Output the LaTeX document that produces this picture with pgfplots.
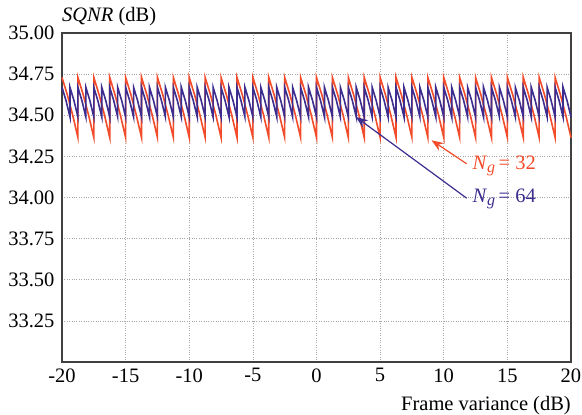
\documentclass[border=0pt]{standalone}
\usepackage{pgfplots}
\pgfplotsset{compat=1.18}
\usepackage{fontspec}
\setmainfont{Liberation Serif}
\usetikzlibrary{arrows.meta}
\definecolor{redline}{RGB}{242,76,42}
\definecolor{blueline}{RGB}{60,45,143}
\newcommand{\lf}{\fontsize{20.5}{23}\selectfont}
\newcommand{\Ng}{\textit{N}\raisebox{-0.35ex}{\fontsize{16}{16}\selectfont\textit{g}}}
\begin{document}
\begin{tikzpicture}
\useasboundingbox (-62pt,-53pt) rectangle (520pt,362pt);
\begin{axis}[
  at={(0pt,0pt)}, anchor=south west,
  width=509pt, height=329pt, scale only axis,
  xmin=-20, xmax=20, ymin=33, ymax=35,
  clip=false,
  xtick={-20,-15,-10,-5,0,5,10,15,20},
  xticklabels={-20,-15,-10,-5,0,5,10,15,20},
  ytick={33.25,33.5,33.75,34,34.25,34.5,34.75,35},
  yticklabels={33.25,33.50,33.75,34.00,34.25,34.50,34.75,35.00},
  grid=major,
  major grid style={dotted, line width=0.7pt, black!35},
  major tick length=0pt,
  axis line style={line width=2.5pt, black!75},
  tick label style={font=\lf},
  xticklabel style={yshift=-3pt},
  yticklabel style={xshift=-4pt},
]
\addplot[redline, line width=1.6pt] coordinates {
(-20,34.73) (-19.583,34.625) (-19.167,34.503) (-18.75,34.365)
(-18.75,34.73) (-18.333,34.625) (-17.917,34.503) (-17.5,34.365)
(-17.5,34.73) (-17.083,34.625) (-16.667,34.503) (-16.25,34.365)
(-16.25,34.73) (-15.833,34.625) (-15.417,34.503) (-15,34.365)
(-15,34.73) (-14.583,34.625) (-14.167,34.503) (-13.75,34.365)
(-13.75,34.73) (-13.333,34.625) (-12.917,34.503) (-12.5,34.365)
(-12.5,34.73) (-12.083,34.625) (-11.667,34.503) (-11.25,34.365)
(-11.25,34.73) (-10.833,34.625) (-10.417,34.503) (-10,34.365)
(-10,34.73) (-9.583,34.625) (-9.167,34.503) (-8.75,34.365)
(-8.75,34.73) (-8.333,34.625) (-7.917,34.503) (-7.5,34.365)
(-7.5,34.73) (-7.083,34.625) (-6.667,34.503) (-6.25,34.365)
(-6.25,34.73) (-5.833,34.625) (-5.417,34.503) (-5,34.365)
(-5,34.73) (-4.583,34.625) (-4.167,34.503) (-3.75,34.365)
(-3.75,34.73) (-3.333,34.625) (-2.917,34.503) (-2.5,34.365)
(-2.5,34.73) (-2.083,34.625) (-1.667,34.503) (-1.25,34.365)
(-1.25,34.73) (-0.833,34.625) (-0.417,34.503) (0,34.365)
(0,34.73) (0.417,34.625) (0.833,34.503) (1.25,34.365)
(1.25,34.73) (1.667,34.625) (2.083,34.503) (2.5,34.365)
(2.5,34.73) (2.917,34.625) (3.333,34.503) (3.75,34.365)
(3.75,34.73) (4.167,34.625) (4.583,34.503) (5,34.365)
(5,34.73) (5.417,34.625) (5.833,34.503) (6.25,34.365)
(6.25,34.73) (6.667,34.625) (7.083,34.503) (7.5,34.365)
(7.5,34.73) (7.917,34.625) (8.333,34.503) (8.75,34.365)
(8.75,34.73) (9.167,34.625) (9.583,34.503) (10,34.365)
(10,34.73) (10.417,34.625) (10.833,34.503) (11.25,34.365)
(11.25,34.73) (11.667,34.625) (12.083,34.503) (12.5,34.365)
(12.5,34.73) (12.917,34.625) (13.333,34.503) (13.75,34.365)
(13.75,34.73) (14.167,34.625) (14.583,34.503) (15,34.365)
(15,34.73) (15.417,34.625) (15.833,34.503) (16.25,34.365)
(16.25,34.73) (16.667,34.625) (17.083,34.503) (17.5,34.365)
(17.5,34.73) (17.917,34.625) (18.333,34.503) (18.75,34.365)
(18.75,34.73) (19.167,34.625) (19.583,34.503) (20,34.365)
};
\addplot[blueline, line width=1.6pt] coordinates {
(-20,34.67) (-19.6875,34.59) (-19.375,34.49)
(-19.375,34.67) (-19.0625,34.59) (-18.75,34.49)
(-18.75,34.67) (-18.4375,34.59) (-18.125,34.49)
(-18.125,34.67) (-17.8125,34.59) (-17.5,34.49)
(-17.5,34.67) (-17.1875,34.59) (-16.875,34.49)
(-16.875,34.67) (-16.5625,34.59) (-16.25,34.49)
(-16.25,34.67) (-15.9375,34.59) (-15.625,34.49)
(-15.625,34.67) (-15.3125,34.59) (-15,34.49)
(-15,34.67) (-14.6875,34.59) (-14.375,34.49)
(-14.375,34.67) (-14.0625,34.59) (-13.75,34.49)
(-13.75,34.67) (-13.4375,34.59) (-13.125,34.49)
(-13.125,34.67) (-12.8125,34.59) (-12.5,34.49)
(-12.5,34.67) (-12.1875,34.59) (-11.875,34.49)
(-11.875,34.67) (-11.5625,34.59) (-11.25,34.49)
(-11.25,34.67) (-10.9375,34.59) (-10.625,34.49)
(-10.625,34.67) (-10.3125,34.59) (-10,34.49)
(-10,34.67) (-9.6875,34.59) (-9.375,34.49)
(-9.375,34.67) (-9.0625,34.59) (-8.75,34.49)
(-8.75,34.67) (-8.4375,34.59) (-8.125,34.49)
(-8.125,34.67) (-7.8125,34.59) (-7.5,34.49)
(-7.5,34.67) (-7.1875,34.59) (-6.875,34.49)
(-6.875,34.67) (-6.5625,34.59) (-6.25,34.49)
(-6.25,34.67) (-5.9375,34.59) (-5.625,34.49)
(-5.625,34.67) (-5.3125,34.59) (-5,34.49)
(-5,34.67) (-4.6875,34.59) (-4.375,34.49)
(-4.375,34.67) (-4.0625,34.59) (-3.75,34.49)
(-3.75,34.67) (-3.4375,34.59) (-3.125,34.49)
(-3.125,34.67) (-2.8125,34.59) (-2.5,34.49)
(-2.5,34.67) (-2.1875,34.59) (-1.875,34.49)
(-1.875,34.67) (-1.5625,34.59) (-1.25,34.49)
(-1.25,34.67) (-0.9375,34.59) (-0.625,34.49)
(-0.625,34.67) (-0.3125,34.59) (0,34.49)
(0,34.67) (0.3125,34.59) (0.625,34.49)
(0.625,34.67) (0.9375,34.59) (1.25,34.49)
(1.25,34.67) (1.5625,34.59) (1.875,34.49)
(1.875,34.67) (2.1875,34.59) (2.5,34.49)
(2.5,34.67) (2.8125,34.59) (3.125,34.49)
(3.125,34.67) (3.4375,34.59) (3.75,34.49)
(3.75,34.67) (4.0625,34.59) (4.375,34.49)
(4.375,34.67) (4.6875,34.59) (5,34.49)
(5,34.67) (5.3125,34.59) (5.625,34.49)
(5.625,34.67) (5.9375,34.59) (6.25,34.49)
(6.25,34.67) (6.5625,34.59) (6.875,34.49)
(6.875,34.67) (7.1875,34.59) (7.5,34.49)
(7.5,34.67) (7.8125,34.59) (8.125,34.49)
(8.125,34.67) (8.4375,34.59) (8.75,34.49)
(8.75,34.67) (9.0625,34.59) (9.375,34.49)
(9.375,34.67) (9.6875,34.59) (10,34.49)
(10,34.67) (10.3125,34.59) (10.625,34.49)
(10.625,34.67) (10.9375,34.59) (11.25,34.49)
(11.25,34.67) (11.5625,34.59) (11.875,34.49)
(11.875,34.67) (12.1875,34.59) (12.5,34.49)
(12.5,34.67) (12.8125,34.59) (13.125,34.49)
(13.125,34.67) (13.4375,34.59) (13.75,34.49)
(13.75,34.67) (14.0625,34.59) (14.375,34.49)
(14.375,34.67) (14.6875,34.59) (15,34.49)
(15,34.67) (15.3125,34.59) (15.625,34.49)
(15.625,34.67) (15.9375,34.59) (16.25,34.49)
(16.25,34.67) (16.5625,34.59) (16.875,34.49)
(16.875,34.67) (17.1875,34.59) (17.5,34.49)
(17.5,34.67) (17.8125,34.59) (18.125,34.49)
(18.125,34.67) (18.4375,34.59) (18.75,34.49)
(18.75,34.67) (19.0625,34.59) (19.375,34.49)
(19.375,34.67) (19.6875,34.59) (20,34.49)
};
\draw[redline, line width=1.2pt, -{Stealth[length=12pt,width=9pt]}] (axis cs:11.8,34.205) -- (axis cs:9.04,34.348);
\draw[blueline, line width=1.2pt, -{Stealth[length=12pt,width=9pt]}] (axis cs:11.8,33.996) -- (axis cs:3.09,34.49);
\node[anchor=west, text=redline, font=\lf, inner sep=0pt] at (axis cs:12.25,34.19) {\Ng\,= 32};
\node[anchor=west, text=blueline, font=\lf, inner sep=0pt] at (axis cs:12.25,33.99) {\Ng\,= 64};
\node[anchor=base west, font=\lf, inner sep=0pt] at (rel axis cs:0,1) [yshift=11pt] {\textit{SQNR} (dB)};
\node[anchor=base east, font=\lf, inner sep=0pt] at (rel axis cs:1,0) [yshift=-49pt] {Frame variance (dB)};
\end{axis}
\end{tikzpicture}
\end{document}
